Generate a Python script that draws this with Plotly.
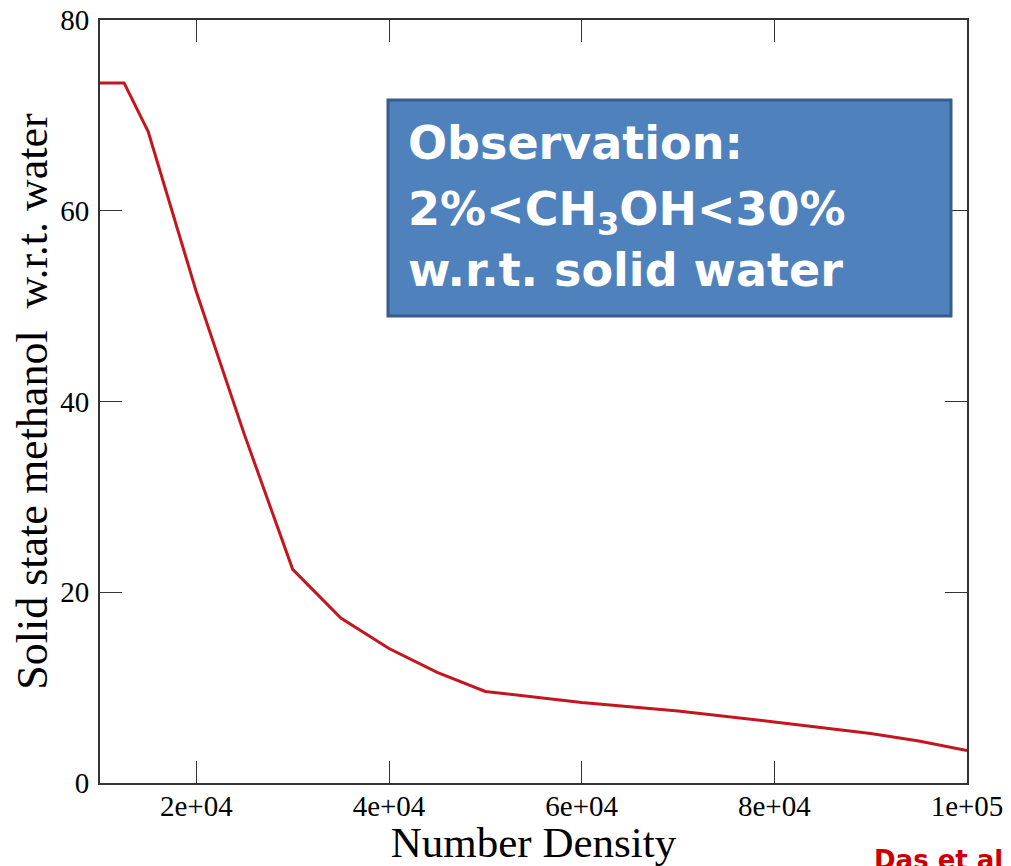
import plotly.graph_objects as go

number_density = [10000, 12500, 15000, 20000, 25000, 30000, 35000, 40000, 45000, 50000,
                  60000, 70000, 80000, 90000, 95000, 100000]
methanol = [73.4, 73.4, 68.3, 51.5, 36.5, 22.4, 17.3, 14.1, 11.6, 9.6,
            8.45, 7.55, 6.4, 5.2, 4.4, 3.4]

x_ticks = [20000, 40000, 60000, 80000, 100000]
x_ticklabels = ["2e+04", "4e+04", "6e+04", "8e+04", "1e+05"]
y_ticks = [0, 20, 40, 60, 80]

# page has an 8px body margin; figure coordinates = page coordinates - 8
OFF = 8
W, H = 1011 - OFF, 866 - OFF
L, T = 100 - OFF, 20 - OFF
R = W - (967 - OFF)
B = H - (783 - OFF)

fig = go.Figure()
fig.add_trace(go.Scatter(x=number_density, y=methanol, mode="lines",
                         line=dict(color="#C4161F", width=3), showlegend=False))

serif = "Liberation Serif, Times New Roman, serif"
fig.update_layout(
    width=W, height=H,
    margin=dict(l=L, r=R, t=T, b=B, autoexpand=False),
    paper_bgcolor="white", plot_bgcolor="white",
    font=dict(family=serif, color="black"),
)
fig.update_xaxes(range=[10000, 100000], tickvals=x_ticks, ticktext=x_ticklabels,
                 ticks="inside", ticklen=22, tickwidth=1.2, tickcolor="#333",
                 showline=True, linecolor="#333", linewidth=2, mirror="ticks",
                 showgrid=False, zeroline=False, automargin=False,
                 ticklabelstandoff=-4, ticklabeloverflow="allow",
                 tickfont=dict(size=29, family=serif),
                 title=dict(text="Number Density", font=dict(size=43, family=serif), standoff=4))
fig.update_yaxes(range=[0, 80], tickvals=y_ticks,
                 ticks="inside", ticklen=22, tickwidth=1.2, tickcolor="#333",
                 showline=True, linecolor="#333", linewidth=2, mirror="ticks",
                 showgrid=False, zeroline=False, automargin=False,
                 ticklabelstandoff=3, ticklabeloverflow="allow",
                 tickfont=dict(size=29, family=serif),
                 title=dict(text="Solid state methanol  w.r.t. water", font=dict(size=44, family=serif), standoff=4))

pw = W - L - R
ph = H - T - B
def px(xp):
    return (xp - OFF - L) / pw
def py(yp):
    return (H - B - (yp - OFF)) / ph

fig.add_shape(type="rect", xref="paper", yref="paper",
              x0=px(388), x1=px(951), y0=py(316), y1=py(100),
              fillcolor="#4F81BD", line=dict(color="#385D8A", width=3))

box_font = dict(family="DejaVu Sans, Noto Sans, sans-serif", size=46, color="white")
lines = ["<b>Observation:</b>", "<b>2%&lt;CH<sub>3</sub>OH&lt;30%</b>", "<b>w.r.t. solid water</b>"]
centers = [143, 212, 270]
for txt, yc in zip(lines, centers):
    fig.add_annotation(xref="paper", yref="paper", x=px(406), y=py(yc),
                       xanchor="left", yanchor="middle", text=txt, showarrow=False,
                       font=box_font, align="left")

fig.add_annotation(xref="paper", yref="paper", x=px(872), y=py(843),
                   xanchor="left", yanchor="top", text="<b>Das et al</b>", showarrow=False,
                   font=dict(family="DejaVu Sans, sans-serif", size=26, color="#CC0000"))

fig.write_html("out.html")
